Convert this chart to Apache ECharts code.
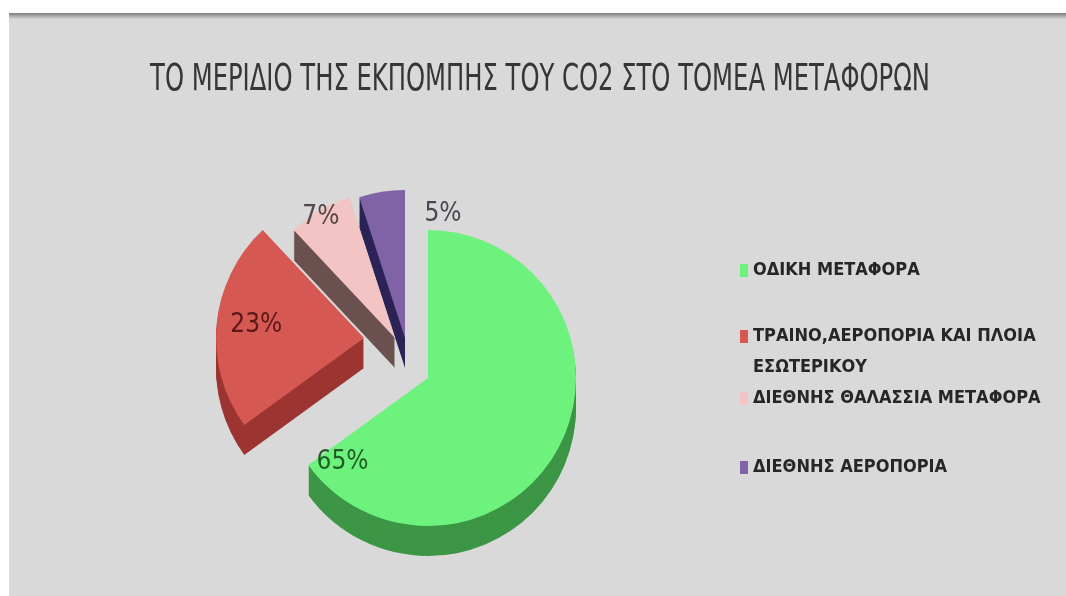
<!DOCTYPE html>
<html>
<head>
<meta charset="utf-8">
<script src="https://cdn.jsdelivr.net/npm/echarts@6/dist/echarts.min.js"></script>
<style>
  html, body { margin: 0; padding: 0; background: #ffffff; }
  #chart { width: 1066px; height: 596px; }
</style>
</head>
<body>
<div id="chart"></div>
<script>
// CO2 emissions of the transport sector, share per sub-sector (%)
const titleText = 'ΤΟ ΜΕΡΙΔΙΟ ΤΗΣ ΕΚΠΟΜΠΗΣ ΤΟΥ CO2 ΣΤΟ ΤΟΜΕΑ ΜΕΤΑΦΟΡΩΝ';
const categories = [
  'ΟΔΙΚΗ ΜΕΤΑΦΟΡΑ',
  'ΤΡΑΙΝΟ,ΑΕΡΟΠΟΡΙΑ ΚΑΙ ΠΛΟΙΑ ΕΣΩΤΕΡΙΚΟΥ',
  'ΔΙΕΘΝΗΣ ΘΑΛΑΣΣΙΑ ΜΕΤΑΦΟΡΑ',
  'ΔΙΕΘΝΗΣ ΑΕΡΟΠΟΡΙΑ'
];
const shares = [65, 23, 7, 5];

// styling
const FONT = '"Liberation Sans Narrow", "DejaVu Sans Condensed", "Noto Sans", sans-serif';
const topColors   = ['#6ef27e', '#d65853', '#f2c4c4', '#7f63a6'];
const sideColors  = ['#3c9645', '#9c3532', '#6b5050', '#2c2456'];
const labelColors = ['#1f5c26', '#5a1816', '#574545', '#474753'];
// centre of each (pulled-out) slice
const sliceCenters = [[428, 378], [364, 338], [395, 338], [405, 338]];
const labelShift   = [[-154, 49], [-31, -6], [-35, -54], [50, -48]];
const legendTops   = [250, 285, 378, 447];
const R = 148;                    // pie radius
const DEPTH = 30, STEP = 2;       // extruded side of the pie

// one pie series per slice, so that every slice can sit at its own pulled-out centre;
// stacked copies shifted downward form the slice walls, the last copy is the top face
function sliceSeries(i, lift, isTop) {
  return {
    type: 'pie',
    center: [sliceCenters[i][0], sliceCenters[i][1] + lift],
    radius: R,
    startAngle: 90,
    clockwise: true,
    selectedMode: false,
    avoidLabelOverlap: false,
    silent: true,
    animation: false,
    z: isTop ? 4 : 3,
    emphasis: { disabled: true },
    labelLine: { show: false },
    itemStyle: { borderWidth: 0 },
    labelLayout: (p) => ({ dx: labelShift[p.dataIndex][0], dy: labelShift[p.dataIndex][1] }),
    data: shares.map((v, j) => ({
      name: categories[j],
      value: v,
      itemStyle: { color: j === i ? (isTop ? topColors[j] : sideColors[j]) : 'rgba(0,0,0,0)' },
      label: {
        show: isTop && j === i,
        position: 'inside',
        formatter: (p) => p.value + '%',
        fontFamily: FONT,
        fontSize: 26,
        color: labelColors[j]
      }
    }))
  };
}

const series = [];
for (let lift = DEPTH; lift > 0; lift -= STEP) {
  for (let i = 0; i < shares.length; i++) series.push(sliceSeries(i, lift, false));
}
for (let i = 0; i < shares.length; i++) series.push(sliceSeries(i, 0, true));

// one legend block per category; the long name wraps onto a second line
// and its marker stays level with the first line
const legends = categories.map((name, i) => ({
  orient: 'vertical',
  left: 735,
  top: legendTops[i],
  data: [{ name: name, itemStyle: { color: topColors[i] } }],
  icon: 'rect',
  itemWidth: 8,
  itemHeight: 13,
  selectedMode: false,
  formatter: (n) => n.indexOf('ΠΛΟΙΑ ') >= 0 ? '\n' + n.replace('ΠΛΟΙΑ ', 'ΠΛΟΙΑ\n') : n,
  textStyle: {
    fontFamily: FONT,
    fontSize: 18,
    fontWeight: 'bold',
    color: '#262626',
    lineHeight: 31
  }
}));

const chart = echarts.init(document.getElementById('chart'), null, { renderer: 'canvas' });
chart.setOption({
  animation: false,
  backgroundColor: '#ffffff',
  graphic: [
    { type: 'rect', z: 0, shape: { x: 9, y: 13, width: 1057, height: 583 }, style: { fill: '#d9d9d9' } },
    { type: 'rect', z: 1, shape: { x: 9, y: 13, width: 1057, height: 6 },
      style: { fill: new echarts.graphic.LinearGradient(0, 0, 0, 1, [
        { offset: 0, color: '#7c7c7c' }, { offset: 1, color: '#d6d6d6' }
      ]) } },
    // chart title, set in a tall condensed face
    { type: 'text', z: 5, x: 540, y: 80, scaleX: 0.71,
      style: { text: titleText, align: 'center', verticalAlign: 'middle',
               font: 'normal 38px ' + FONT, fill: '#363636' } }
  ],
  legend: legends,
  series: series
});
</script>
</body>
</html>
